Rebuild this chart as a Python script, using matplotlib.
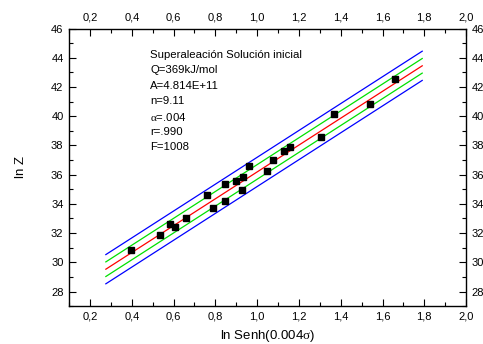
import numpy as np
import matplotlib
matplotlib.use("Agg")
import matplotlib.pyplot as plt
from matplotlib.ticker import MultipleLocator, FuncFormatter

plt.rcParams['font.family'] = ['Liberation Sans', 'DejaVu Sans']
plt.rcParams['mathtext.fontset'] = 'custom'
plt.rcParams['mathtext.rm'] = 'Liberation Serif'

# experimental points: ln Senh(0.004 sigma) vs ln Z
x_pts = [0.397, 0.537, 0.583, 0.609, 0.658, 0.762, 0.791, 0.848, 0.848, 0.898,
         0.933, 0.928, 0.963, 1.048, 1.076, 1.130, 1.158, 1.308, 1.366, 1.540, 1.661]
y_pts = [30.83, 31.90, 32.59, 32.45, 33.02, 34.64, 33.73, 35.33, 34.23, 35.55,
         35.85, 34.92, 36.56, 36.24, 36.97, 37.65, 37.86, 38.55, 40.12, 40.85, 42.52]

# fit line and bands
fit_x = [0.276, 1.79]
fit_y = [29.53, 43.45]
green_off = 0.5
blue_off = 1.0

info = ["Superaleación Solución inicial", "Q=369kJ/mol", "A=4.814E+11",
        "n=9.11", r"$\mathrm{\alpha}$=.004", "r=.990", "F=1008"]

fig = plt.figure(figsize=(4.83, 3.44), dpi=100)
ax = fig.add_axes([0.143, 0.110, 0.822, 0.807])

fx = np.array(fit_x)
fy = np.array(fit_y)
ax.plot(fx, fy + blue_off, color='#0000ff', lw=0.9)
ax.plot(fx, fy - blue_off, color='#0000ff', lw=0.9)
ax.plot(fx, fy + green_off, color='#00e000', lw=0.9)
ax.plot(fx, fy - green_off, color='#00e000', lw=0.9)
ax.plot(fx, fy, color='#ff0000', lw=0.9)
ax.plot(x_pts, y_pts, 's', color='black', markersize=4.2, zorder=5)

ax.set_xlim(0.1, 2.0)
ax.set_ylim(27, 46)
ax.xaxis.set_major_locator(MultipleLocator(0.2))
ax.xaxis.set_minor_locator(MultipleLocator(0.1))
ax.yaxis.set_major_locator(MultipleLocator(2))
ax.yaxis.set_minor_locator(MultipleLocator(1))
ax.xaxis.set_major_formatter(FuncFormatter(lambda v, p: f"{v:.1f}".replace('.', ',')))
ax.yaxis.set_major_formatter(FuncFormatter(lambda v, p: f"{v:.0f}"))
ax.tick_params(which='both', direction='in', top=True, right=True,
               labeltop=True, labelright=True, labelsize=8, width=0.8, pad=4)
ax.tick_params(which='major', length=5)
ax.tick_params(which='minor', length=3)
for s in ax.spines.values():
    s.set_linewidth(1.0)

ax.set_xlabel(r"ln Senh(0.004$\mathrm{\sigma}$)", fontsize=9.5)
ax.set_ylabel("ln Z", fontsize=9.5)
ax.xaxis.set_label_coords(0.5, -0.078)
ax.yaxis.set_label_coords(-0.105, 0.5)

for i, t in enumerate(info):
    ax.text(0.204, 0.905 - i * 0.0555, t, transform=ax.transAxes,
            fontsize=8.2, va='center', ha='left')

fig.savefig("out.png", dpi=100)
